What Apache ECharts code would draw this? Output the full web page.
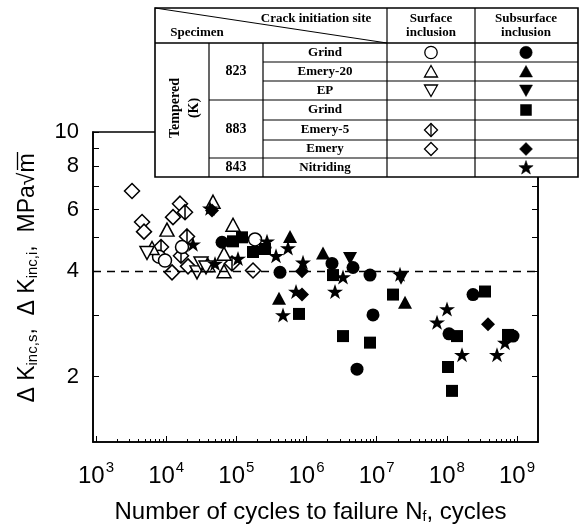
<!DOCTYPE html>
<html><head><meta charset="utf-8">
<script src="https://cdn.jsdelivr.net/npm/echarts@6/dist/echarts.min.js"></script>
<style>html,body{margin:0;padding:0;background:#fff}#c{width:584px;height:529px}</style>
</head><body><div id="c"></div>
<script>
// ---- data: [cycles to failure, ΔK MPa√m] ----
const grind823Surface   = [[7910,4.40],[9620,4.29],[16810,4.69],[184500,4.93]];
const emery20Surface    = [[6280,4.66],[10270,5.26],[39470,4.16],[66720,4.00],[66720,4.49],[89620,5.43],[46490,6.32]];
const epSurface         = [[5330,4.51],[27500,3.97],[31360,4.21],[36950,4.10]];
const emery5Surface     = [[18550,5.90],[8440,4.69],[16260,4.43],[19810,5.03],[86740,4.21]];
const emerySurface      = [[3260,6.78],[4530,5.53],[4830,5.19],[12510,5.71],[15740,6.24],[12110,3.97],[172800,4.02],[20470,4.13]];
const grind823Sub       = [[62480,4.84],[419000,3.97],[2307000,4.21],[4598000,4.10],[8030000,3.90],[8860000,3.00],[5243000,2.10],[107300000,2.65],[235900000,3.43],[877000000,2.61]];
const emery20Sub        = [[581900,5.03],[1718000,4.51],[405500,3.35],[25340000,3.26]];
const epSub             = [[4168000,4.35],[22220000,3.82]];
const grind883Sub       = [[89620,4.87],[120400,5.00],[172800,4.54],[256000,4.63],[781700,3.02],[2385000,3.90],[17090000,3.43],[3311000,2.61],[8030000,2.50],[139600000,2.61],[103900000,2.13],[118400000,1.82],[349700000,3.50],[744000000,2.63]];
const emerySub          = [[44990,5.97],[862600,4.00],[862600,3.43],[385900000,2.82]];
const nitridingSub      = [[24120,4.78],[49640,4.21],[42140,6.05],[105600,4.35],[273500,4.87],[367600,4.43],[544800,4.66],[708500,3.50],[462400,3.00],[891300,4.24],[3311000,3.85],[2547000,3.50],[21500000,3.92],[100500000,3.12],[72400000,2.86],[164400000,2.31],[674000000,2.50],[518000000,2.31]];

const xMajorTicks = [1e3,1e4,1e5,1e6,1e7,1e8,1e9];
const yTicks = [2,3,4,5,6,7,8,9,10];
const yTickLabels = [2,4,6,8,10];
const thresholdK = 4;

const tableRows = ['Grind','Emery-20','EP','Grind','Emery-5','Emery','Nitriding'];
const tableTemps = ['823','883','843'];
const surfaceMarks = ['circle','up','down','','crossed','diamond',''];
const subMarks = ['circle','up','down','square','','diamond','star'];

// minor tick positions (axis decoration)
const xMinorTicks = [];
for (let e = 3; e < 9; e++) for (let m = 2; m <= 9; m++) xMinorTicks.push(m * Math.pow(10, e));

const STAR = 'path://M50,0 L61.8,35.1 L98.8,35.1 L68.9,56.8 L80.2,91.9 L50,70.2 L19.8,91.9 L31.1,56.8 L1.2,35.1 L38.2,35.1 Z';
const CROSSED = 'path://M5,0 L10,5 L5,10 L0,5 Z M5,0 L5,10';

function sc(name, data, symbol, size, filled, rotate) {
  return {
    type: 'scatter', name, data, symbol, symbolSize: size, symbolRotate: rotate || 0,
    xAxisIndex: 0, yAxisIndex: 0,
    itemStyle: { color: filled ? '#000' : '#fff', borderColor: '#000', borderWidth: filled ? 0 : 1.5, opacity: 1 },
    emphasis: { disabled: true }, silent: true
  };
}

const series = [
  sc('Emery surface', emerySurface, 'diamond', [15,15], false),
  sc('Emery-5 surface', emery5Surface, CROSSED, [15,15], false),
  sc('Grind 823 surface', grind823Surface, 'circle', 13, false),
  sc('Emery-20 surface', emery20Surface, 'triangle', [14,13], false),
  sc('EP surface', epSurface, 'triangle', [14,13], false, 180),
  sc('Grind 823 subsurface', grind823Sub, 'circle', 13, true),
  sc('Emery-20 subsurface', emery20Sub, 'triangle', [14,13], true),
  sc('EP subsurface', epSub, 'triangle', [14,13], true, 180),
  sc('Grind 883 subsurface', grind883Sub, 'rect', 12, true),
  sc('Emery subsurface', emerySub, 'diamond', [14,14], true),
  sc('Nitriding subsurface', nitridingSub, STAR, [16,15], true)
];
series[0].markLine = {
  silent: true, symbol: ['none','none'], label: { show: false },
  lineStyle: { color: '#000', type: [8,6], width: 1.3 },
  data: [{ yAxis: thresholdK }]
};

// ---- table (graphic) ----
const colX = [155,209,263,387,475,578];
const rowY = [43,62,81,100,120,140,158,177];
const TT = 8;
const g = [];
const Z = 100;
const serifB = '"Liberation Serif", "Times New Roman", serif';
function line(x1,y1,x2,y2,w) { g.push({type:'line', z:Z+1, shape:{x1,y1,x2,y2}, style:{stroke:'#000', lineWidth:w||1.2}}); }
function txt(t,x,y,opts) { g.push(Object.assign({type:'text', z:Z+2, x, y, style:Object.assign({text:t, fill:'#000', font:'bold 13px ' + serifB, align:'center', verticalAlign:'middle'}, (opts&&opts.style)||{})}, opts&&opts.el||{})); }
function mark(kind, cx, cy, filled) {
  const st = {fill: filled ? '#000' : '#fff', stroke:'#000', lineWidth: filled ? 0.5 : 1.3};
  if (kind === 'circle') g.push({type:'circle', z:Z+2, shape:{cx, cy, r:6.2}, style:st});
  else if (kind === 'up') g.push({type:'polygon', z:Z+2, shape:{points:[[cx,cy-6],[cx+6.5,cy+5.5],[cx-6.5,cy+5.5]]}, style:st});
  else if (kind === 'down') g.push({type:'polygon', z:Z+2, shape:{points:[[cx-6.5,cy-5.5],[cx+6.5,cy-5.5],[cx,cy+6]]}, style:st});
  else if (kind === 'diamond' || kind === 'crossed') {
    g.push({type:'polygon', z:Z+2, shape:{points:[[cx,cy-6.5],[cx+6.5,cy],[cx,cy+6.5],[cx-6.5,cy]]}, style:st});
    if (kind === 'crossed') g.push({type:'line', z:Z+3, shape:{x1:cx,y1:cy-6.5,x2:cx,y2:cy+6.5}, style:{stroke:'#000', lineWidth:1.3}});
  }
  else if (kind === 'square') g.push({type:'rect', z:Z+2, shape:{x:cx-5.5, y:cy-5.5, width:11, height:11}, style:st});
  else if (kind === 'star') {
    const pts = [];
    for (let i = 0; i < 10; i++) { const r = i % 2 ? 3 : 7.5; const a = -Math.PI/2 + i*Math.PI/5; pts.push([cx + r*Math.cos(a), cy + 0.5 + r*Math.sin(a)]); }
    g.push({type:'polygon', z:Z+2, shape:{points:pts}, style:st});
  }
}
g.push({type:'rect', z:Z, shape:{x:colX[0], y:TT, width:colX[5]-colX[0], height:rowY[7]-TT}, style:{fill:'#fff', stroke:'#000', lineWidth:1.6}});
line(colX[0],rowY[0],colX[5],rowY[0],1.4);
line(colX[0],TT,colX[3],rowY[0],1);
line(colX[1],rowY[0],colX[1],rowY[7]); line(colX[2],rowY[0],colX[2],rowY[7]);
line(colX[3],TT,colX[3],rowY[7]); line(colX[4],TT,colX[4],rowY[7]);
[1,2,4,5].forEach(i => line(colX[2],rowY[i],colX[5],rowY[i]));
[3,6].forEach(i => line(colX[1],rowY[i],colX[5],rowY[i]));
txt('Crack initiation site', 316, 19);
txt('Specimen', 197, 33);
txt('Surface', 431, 19); txt('inclusion', 431, 33);
txt('Subsurface', 526, 19); txt('inclusion', 526, 33);
txt('Tempered', 175, 108, {el:{rotation:Math.PI/2}, style:{font:'bold 14px ' + serifB}});
txt('(K)', 194, 108, {el:{rotation:Math.PI/2}, style:{font:'bold 14px ' + serifB}});
txt(tableTemps[0], 236, (rowY[0]+rowY[3])/2, {style:{font:'bold 14px ' + serifB}});
txt(tableTemps[1], 236, (rowY[3]+rowY[6])/2, {style:{font:'bold 14px ' + serifB}});
txt(tableTemps[2], 236, (rowY[6]+rowY[7])/2, {style:{font:'bold 14px ' + serifB}});
tableRows.forEach((r,i) => {
  const cy = (rowY[i]+rowY[i+1])/2;
  txt(r, 325, cy);
  if (surfaceMarks[i]) mark(surfaceMarks[i], 431, cy, false);
  if (subMarks[i]) mark(subMarks[i], 526, cy, true);
});
// y axis title
const fontSans = '"Liberation Sans", Arial, sans-serif';
g.push({type:'text', z:Z+2, x:28, y:278, rotation:Math.PI/2, style:{
  text:'Δ K{s|inc,s},  Δ K{s|inc,i},  MPa√m', align:'center', verticalAlign:'middle', fill:'#000',
  font:'23px ' + fontSans,
  rich:{ s:{ fontSize:15, fontFamily:fontSans, padding:[9,0,0,0], fill:'#000' } }
}});
// overline of the square root
g.push({type:'line', z:Z+2, shape:{x1:17.5, y1:152, x2:17.5, y2:170}, style:{stroke:'#000', lineWidth:1.3}});

const option = {
  animation: false,
  backgroundColor: '#fff',
  grid: { left: 93, right: 46, top: 132, bottom: 76, show: true, borderColor: '#000', borderWidth: 1.6, backgroundColor: 'transparent' },
  xAxis: [
    { type: 'log', min: 906, max: 1.99e9, position: 'bottom',
      axisLine: { show: true, lineStyle: { color: '#000', width: 1.6 } },
      axisTick: { show: true, inside: true, length: 6, customValues: xMajorTicks, lineStyle: { color: '#000', width: 1 } },
      splitLine: { show: false }, minorTick: { show: false },
      axisLabel: { show: true, margin: 18, customValues: xMajorTicks, color: '#000',
        formatter: v => '{b|10}{s|' + Math.round(Math.log10(v)) + '}',
        rich: { b: { fontSize: 24, fontFamily: fontSans, color: '#000', verticalAlign: 'bottom', lineHeight: 28 },
                s: { fontSize: 15, fontFamily: fontSans, color: '#000', verticalAlign: 'top', lineHeight: 28, padding: [0,0,13,1] } } },
      name: 'Number of cycles to failure N{f|f}, cycles', nameLocation: 'middle', nameGap: 58,
      nameTextStyle: { fontSize: 24, fontFamily: fontSans, color: '#000', padding: [0,10,0,0],
        rich: { f: { fontSize: 14, fontFamily: fontSans, color: '#000', padding: [10,0,0,0] } } }
    },
    { type: 'log', min: 906, max: 1.99e9, position: 'bottom',
      axisLine: { show: false }, axisLabel: { show: false }, splitLine: { show: false },
      axisTick: { show: true, inside: true, length: 3, customValues: xMinorTicks, lineStyle: { color: '#000', width: 1 } } }
  ],
  yAxis: [
    { type: 'log', min: 1.3, max: 10, position: 'left',
      axisLine: { show: true, lineStyle: { color: '#000', width: 1.6 } },
      axisTick: { show: true, inside: true, length: 6, customValues: yTicks, lineStyle: { color: '#000', width: 1 } },
      splitLine: { show: false },
      axisLabel: { show: true, margin: 14, customValues: yTickLabels, color: '#000', fontSize: 22, fontFamily: fontSans, formatter: v => String(Math.round(v)) } },
    { type: 'log', min: 1.3, max: 10, position: 'right',
      axisLine: { show: true, lineStyle: { color: '#000', width: 1.6 } },
      axisTick: { show: true, inside: true, length: 6, customValues: yTicks, lineStyle: { color: '#000', width: 1 } },
      splitLine: { show: false }, axisLabel: { show: false } }
  ],
  series,
  graphic: g
};
const chart = echarts.init(document.getElementById('c'), null, { renderer: 'canvas' });
chart.setOption(option);
</script></body></html>
